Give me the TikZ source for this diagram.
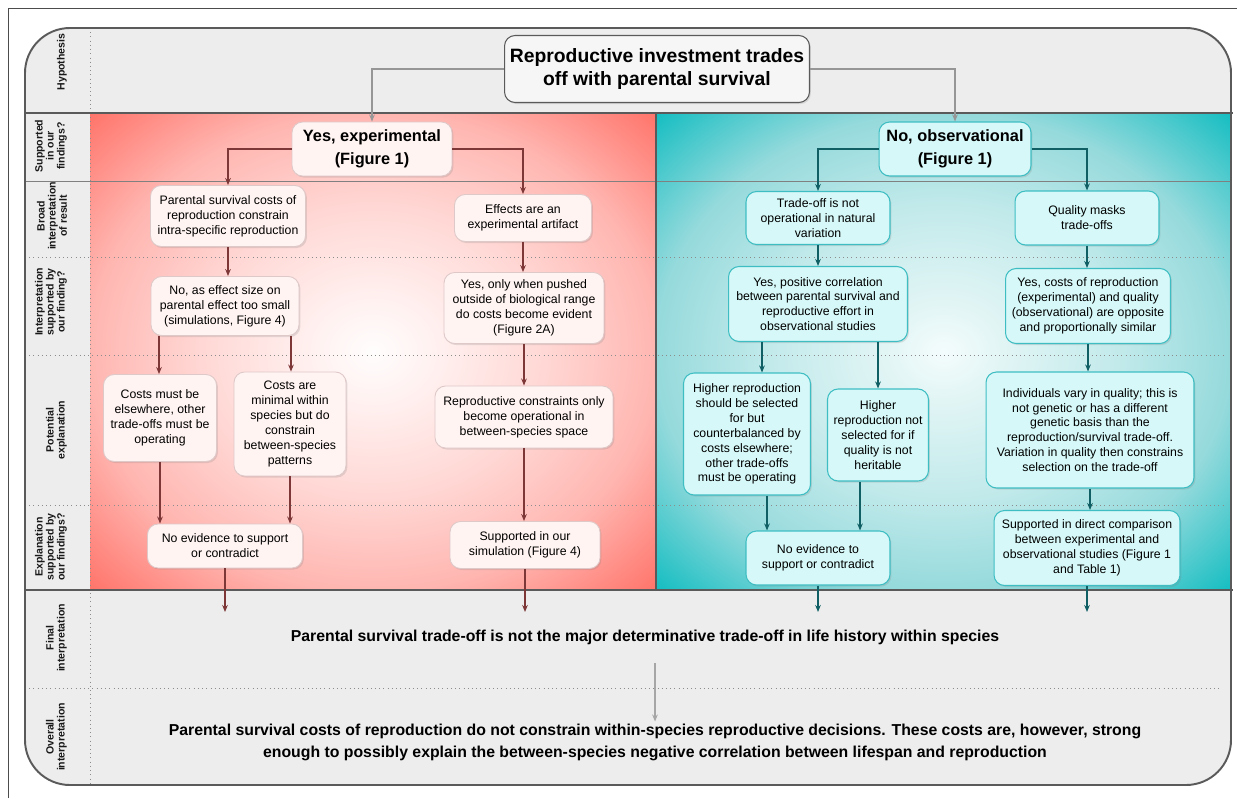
\documentclass[tikz,border=0pt]{standalone}
\usepackage{fontspec}
\setmainfont{Liberation Sans}
\usetikzlibrary{arrows.meta,shadows}
\definecolor{framegray}{RGB}{237,237,237}
\definecolor{framedark}{RGB}{90,90,90}
\definecolor{rp0}{RGB}{255,253,253}
\definecolor{rp1}{RGB}{255,242,241}
\definecolor{rp2}{RGB}{255,216,213}
\definecolor{rp3}{RGB}{255,182,177}
\definecolor{rp4}{RGB}{255,115,105}
\definecolor{tp0}{RGB}{244,252,252}
\definecolor{tp1}{RGB}{226,245,245}
\definecolor{tp2}{RGB}{195,234,235}
\definecolor{tp3}{RGB}{150,218,220}
\definecolor{tp4}{RGB}{18,189,193}
\definecolor{rbf}{RGB}{255,244,242}
\definecolor{rbd}{RGB}{222,200,200}
\definecolor{tbf}{RGB}{214,248,248}
\definecolor{tbd}{RGB}{62,190,195}
\definecolor{rarrc}{RGB}{125,55,55}
\definecolor{tarrc}{RGB}{15,95,100}
\definecolor{hgray}{RGB}{150,150,150}
\definecolor{hfill}{RGB}{246,246,246}
\pgfdeclareradialshading{redpanel}{\pgfpoint{0bp}{0bp}}{color(0bp)=(rp0); color(5bp)=(rp1); color(15bp)=(rp2); color(25bp)=(rp3); color(35.5bp)=(rp4); color(50bp)=(rp4)}
\pgfdeclareradialshading{tealpanel}{\pgfpoint{0bp}{0bp}}{color(0bp)=(tp0); color(5bp)=(tp1); color(15bp)=(tp2); color(25bp)=(tp3); color(35.5bp)=(tp4); color(50bp)=(tp4)}
\tikzset{
  lab/.style={font=\fontsize{6}{6.3}\selectfont\bfseries, text=black!90, align=center, rotate=90, anchor=south, inner sep=1pt},
  rbox/.style={draw=rbd, fill=rbf, line width=0.5pt, rounded corners=6pt, align=center, font=\fontsize{7}{8.5}\selectfont, inner sep=2pt,
    drop shadow={shadow xshift=0.8pt, shadow yshift=-0.9pt, opacity=0.22}},
  tbox/.style={rbox, draw=tbd, fill=tbf, line width=0.6pt},
  hbox/.style={rbox, draw=framedark, fill=hfill, line width=0.6pt, font=\fontsize{11}{13}\selectfont\bfseries},
  ybox/.style={rbox, font=\fontsize{9.3}{13}\selectfont\bfseries},
  nbox/.style={tbox, font=\fontsize{9.3}{13}\selectfont\bfseries},
  rarr/.style={draw=rarrc, line width=0.7pt, -{Stealth[length=4pt,width=3.2pt]}},
  tarr/.style={rarr, draw=tarrc},
  harr/.style={rarr, draw=hgray},
  garr/.style={draw=black!35, line width=0.6pt, -{Stealth[length=4pt,width=3.2pt]}},
  sep/.style={draw=black!45, dotted, line width=0.4pt},
  thick sep/.style={draw=framedark, line width=1.1pt},
  bigtext/.style={font=\fontsize{9}{12.5}\selectfont\bfseries, align=center, inner sep=1pt}
}
\begin{document}
\begin{tikzpicture}[x=0.02cm,y=-0.02cm]
\useasboundingbox (0,0) rectangle (1237,798);
% outer thin lines
\draw[black!70, line width=0.5pt] (8,798) -- (8,8) -- (1237,8);
% frame fill
\fill[framegray, rounded corners=0.9cm] (25,28) rectangle (1231,785);
% panels
\shade[shading=redpanel] (90,113) rectangle (656,590);
\shade[shading=tealpanel] (656,113) rectangle (1231,590);
% separators
\draw[black!50, line width=0.5pt] (25,181) -- (1231,181);
\draw[sep] (25,257) -- (1225,257);
\draw[sep] (25,355) -- (1225,355);
\draw[sep] (25,505) -- (1225,505);
\draw[sep] (25,688) -- (1222,688);
\draw[sep] (90,28) -- (90,785);
\draw[thick sep] (25,113) -- (1233,113);
\draw[thick sep] (25,590) -- (1233,590);
\draw[thick sep] (656,113) -- (656,590);
% frame border
\draw[framedark, line width=1.1pt, rounded corners=0.9cm] (25,28) rectangle (1231,785);

% row labels
\node[lab] (lhyp) at (69,62) {Hypothesis};
\node[lab] (lsup) at (69,146) {Supported\\in our\\findings?};
\node[lab] (lbro) at (69,216) {Broad\\interpretation\\of result};
\node[lab] (lint) at (69,302) {Interpretation\\supported by\\our finding?};
\node[lab] (lpot) at (69,430) {Potential\\explanation};
\node[lab] (lexp) at (69,547) {Explanation\\supported by\\our findings?};
\node[lab] (lfin) at (69,638) {Final\\interpretation};
\node[lab] (lovr) at (69,737) {Overall\\interpretation};

% hypothesis and supported
\node[hbox, minimum width=6.1cm, minimum height=1.34cm] (H) at (657,69) {Reproductive investment trades\\off with parental survival};
\node[ybox, minimum width=3.2cm, minimum height=1.08cm] (Y) at (372,149) {Yes, experimental\\(Figure 1)};
\node[nbox, minimum width=3.04cm, minimum height=1.08cm] (N) at (955,149) {No, observational\\(Figure 1)};

% red side
\node[rbox, minimum width=3.1cm, minimum height=1.22cm] (L1) at (228,216) {Parental survival costs of\\reproduction constrain\\intra-specific reproduction};
\node[rbox, minimum width=2.74cm, minimum height=0.94cm] (R1) at (523,218) {Effects are an\\experimental artifact};
\node[rbox, minimum width=2.96cm, minimum height=1.18cm] (L2) at (225,306) {No, as effect size on\\parental effect too small\\(simulations, Figure 4)};
\node[rbox, minimum width=3.2cm, minimum height=1.42cm] (R2) at (524,308) {Yes, only when pushed\\outside of biological range\\do costs become evident\\(Figure 2A)};
\node[rbox, minimum width=2.26cm, minimum height=1.74cm] (L3a) at (160,418) {Costs must be\\elsewhere, other\\trade-offs must be\\operating};
\node[rbox, minimum width=2.24cm, minimum height=2.08cm] (L3b) at (290,424) {Costs are\\minimal within\\species but do\\constrain\\between-species\\patterns};
\node[rbox, minimum width=3.56cm, minimum height=1.24cm] (R3) at (524,417) {Reproductive constraints only\\become operational in\\between-species space};
\node[rbox, minimum width=3.1cm, minimum height=0.88cm] (L4) at (225,546) {No evidence to support\\or contradict};
\node[rbox, minimum width=3.0cm, minimum height=0.94cm] (R4) at (525,545) {Supported in our\\simulation (Figure 4)};

% teal side
\node[tbox, minimum width=2.88cm, minimum height=1.06cm] (T1) at (818,218) {Trade-off is not\\operational in natural\\variation};
\node[tbox, minimum width=2.88cm, minimum height=1.08cm] (TR1) at (1087,218) {Quality masks\\trade-offs};
\node[tbox, minimum width=3.58cm, minimum height=1.5cm] (T2) at (818,304) {Yes, positive correlation\\between parental survival and\\reproductive effort in\\observational studies};
\node[tbox, minimum width=3.3cm, minimum height=1.5cm] (TR2) at (1088,306) {Yes, costs of reproduction\\(experimental) and quality\\(observational) are opposite\\and proportionally similar};
\node[tbox, minimum width=2.54cm, minimum height=2.44cm] (T3a) at (747,434) {Higher reproduction\\should be selected\\for but\\counterbalanced by\\costs elsewhere;\\other trade-offs\\must be operating};
\node[tbox, minimum width=2.02cm, minimum height=1.84cm] (T3b) at (878,435) {Higher\\reproduction not\\selected for if\\quality is not\\heritable};
\node[tbox, minimum width=4.16cm, minimum height=2.32cm] (TR3) at (1090,430) {Individuals vary in quality; this is\\not genetic or has a different\\genetic basis than the\\reproduction/survival trade-off.\\Variation in quality then constrains\\selection on the trade-off};
\node[tbox, minimum width=2.88cm, minimum height=1.08cm] (T4) at (818,558) {No evidence to\\support or contradict};
\node[tbox, minimum width=3.72cm, minimum height=1.5cm] (TR4) at (1087,548) {Supported in direct comparison\\between experimental and\\observational studies (Figure 1\\and Table 1)};

% final texts
\node[bigtext] (F) at (645,637) {Parental survival trade-off is not the major determinative trade-off in life history within species};
\node[bigtext] (O) at (655,742) {Parental survival costs of reproduction do not constrain within-species reproductive decisions. These costs are, however, strong\\enough to possibly explain the between-species negative correlation between lifespan and reproduction};
\coordinate (fin) at (0,612);

% connectors
\draw[harr] (H.west) -| (Y.north);
\draw[harr] (H.east) -| (N.north);
\draw[rarr] (Y.west) -| (L1.north);
\draw[rarr] (Y.east) -| (R1.north);
\draw[tarr] (N.west) -| (T1.north);
\draw[tarr] (N.east) -| (TR1.north);

\draw[rarr] (L1.south) -- (L1.south |- L2.north);
\draw[rarr] (R1.south) -- (R1.south |- R2.north);
\draw[rarr] (159,0 |- L2.south) -- (159,0 |- L3a.north);
\draw[rarr] (291,0 |- L2.south) -- (291,0 |- L3b.north);
\draw[rarr] (R2.south) -- (R2.south |- R3.north);
\draw[rarr] (L3a.south) -- (L3a.south |- L4.north);
\draw[rarr] (L3b.south) -- (L3b.south |- L4.north);
\draw[rarr] (R3.south) -- (R3.south |- R4.north);
\draw[rarr] (L4.south) -- (L4.south |- fin);
\draw[rarr] (R4.south) -- (R4.south |- fin);

\draw[tarr] (T1.south) -- (T1.south |- T2.north);
\draw[tarr] (TR1.south) -- (TR1.south |- TR2.north);
\draw[tarr] (762,0 |- T2.south) -- (762,0 |- T3a.north);
\draw[tarr] (T3b.north |- T2.south) -- (T3b.north);
\draw[tarr] (TR2.south) -- (TR2.south |- TR3.north);
\draw[tarr] (767,0 |- T3a.south) -- (767,0 |- T4.north);
\draw[tarr] (860,0 |- T3b.south) -- (860,0 |- T4.north);
\draw[tarr] (TR3.south) -- (TR3.south |- TR4.north);
\draw[tarr] (T4.south) -- (T4.south |- fin);
\draw[tarr] (TR4.south) -- (TR4.south |- fin);

\draw[garr, shorten <=0.34cm] (O.north |- F.south) -- (O.north);
\end{tikzpicture}
\end{document}
